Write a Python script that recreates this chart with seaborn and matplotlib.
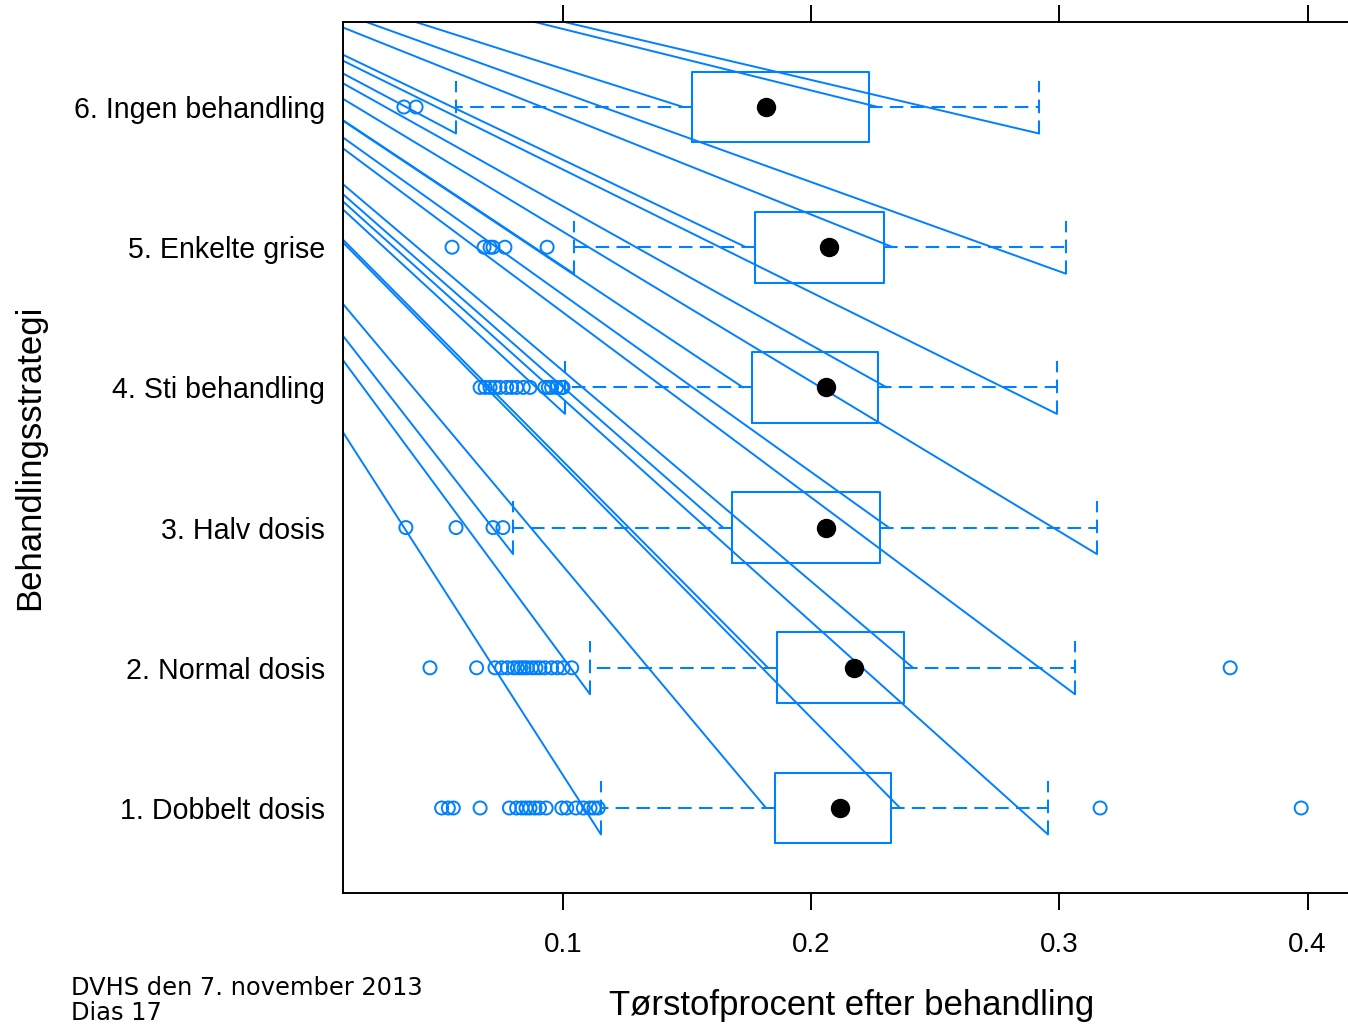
import numpy as np
import pandas as pd
import matplotlib
matplotlib.use("Agg")
import matplotlib.pyplot as plt
import seaborn as sns

# --- data --------------------------------------------------------------
strategies = ["1. Dobbelt dosis", "2. Normal dosis", "3. Halv dosis",
              "4. Sti behandling", "5. Enkelte grise", "6. Ingen behandling"]
q1 = [0.1854, 0.1862, 0.1681, 0.1761, 0.1773, 0.1520]
medians = [0.2116, 0.2172, 0.2060, 0.2060, 0.2072, 0.1818]
q3 = [0.2322, 0.2374, 0.2277, 0.2268, 0.2293, 0.2233]
whisker_lo = [0.1153, 0.1109, 0.0799, 0.1008, 0.1044, 0.0569]
whisker_hi = [0.2954, 0.3063, 0.3151, 0.2990, 0.3026, 0.2918]

outliers_1 = [0.0511, 0.0538, 0.0558, 0.0666, 0.0784, 0.0813, 0.0834, 0.0851,
              0.0867, 0.0887, 0.0905, 0.0932, 0.0995, 0.1015, 0.1052, 0.1082,
              0.1109, 0.1125, 0.1142, 0.3164, 0.3974]
outliers_2 = [0.0464, 0.0652, 0.0726, 0.0753, 0.0776, 0.0800, 0.0816, 0.0830,
              0.0843, 0.0856, 0.0874, 0.0891, 0.0907, 0.0927, 0.0954, 0.0977,
              0.1001, 0.1035, 0.3688]
outliers_3 = [0.0367, 0.0569, 0.0718, 0.0758]
outliers_4 = [0.0666, 0.0686, 0.0706, 0.0726, 0.0746, 0.0773, 0.0793, 0.0813,
              0.0840, 0.0867, 0.0927, 0.0941, 0.0954, 0.0974, 0.0995, 0.1000]
outliers_5 = [0.0553, 0.0682, 0.0706, 0.0718, 0.0766, 0.0936]
outliers_6 = [0.0359, 0.0408]
outliers = [outliers_1, outliers_2, outliers_3, outliers_4, outliers_5, outliers_6]

x_ticks = [0.1, 0.2, 0.3, 0.4]

BLUE = "#0080ff"
BOX_HALF = 0.253
CAP_HALF = 0.189
WHISKER_GAP = 0.0036
# the PDF export drew stray strokes from one off-page point to each whisker end
STRAY_ORIGIN = (-0.1293, 7.562)

sns.set_style("white")
plt.rcParams["font.family"] = ["Liberation Sans", "DejaVu Sans"]
plt.rcParams["text.color"] = "black"
plt.rcParams["axes.labelcolor"] = "black"
plt.rcParams["xtick.color"] = "black"
plt.rcParams["ytick.color"] = "black"

fig = plt.figure(figsize=(13.48, 10.24), dpi=100)
ax = fig.add_axes([343 / 1348, 1 - 893 / 1024, (1360 - 343) / 1348, (893 - 22) / 1024])

positions = np.arange(1, len(strategies) + 1)

# stray strokes
for pos, lo, a, b, hi in zip(positions, whisker_lo, q1, q3, whisker_hi):
    ends = [(lo, pos - CAP_HALF), (a - WHISKER_GAP, pos),
            (b + WHISKER_GAP, pos), (hi, pos - CAP_HALF)]
    for ex, ey in ends:
        ax.plot([STRAY_ORIGIN[0], ex], [STRAY_ORIGIN[1], ey],
                color=BLUE, lw=1.4, zorder=1)

stats = []
for i in range(len(strategies)):
    stats.append(dict(med=medians[i], q1=q1[i], q3=q3[i],
                      whislo=whisker_lo[i], whishi=whisker_hi[i], fliers=[]))

dash = (0, (6.5, 3.5))
ax.bxp(stats, positions=positions, widths=2 * BOX_HALF,
       capwidths=2 * CAP_HALF, orientation="horizontal",
       showfliers=False, manage_ticks=False,
       boxprops=dict(color=BLUE, lw=1.5),
       whiskerprops=dict(color=BLUE, lw=1.5, linestyle=dash),
       capprops=dict(color=BLUE, lw=1.5, linestyle=dash),
       medianprops=dict(lw=0))

flier_df = pd.DataFrame({
    "value": [v for vals in outliers for v in vals],
    "pos": [p for p, vals in zip(positions, outliers) for _ in vals],
})
sns.scatterplot(data=flier_df, x="value", y="pos", ax=ax, marker="o", s=88,
                color="none", edgecolor=BLUE, linewidth=1.4, zorder=4)
sns.scatterplot(x=medians, y=positions, ax=ax, marker="o", s=195,
                color="black", linewidth=0, zorder=5)

ax.set_xlim(0.01136, 0.42110)
ax.set_ylim(0.3937, 6.6063)
ax.set_xticks(x_ticks)
ax.set_xticklabels([f"{t:.1f}" for t in x_ticks])
ax.set_yticks(positions)
ax.set_yticklabels(strategies)
ax.tick_params(axis="x", top=True, bottom=True, labeltop=False, direction="out",
               length=12, width=1.4, labelsize=20, pad=16, color="black")
ax.tick_params(axis="y", left=False, length=0, labelsize=20.6, pad=13)
for sp in ax.spines.values():
    sp.set_color("black")
    sp.set_linewidth(1.4)

ax.set_xlabel("Tørstofprocent efter behandling", fontsize=25)
ax.set_ylabel("Behandlingsstrategi", fontsize=25)
ax.xaxis.set_label_coords(0.5, -0.110)
ax.yaxis.set_label_coords(-0.292, 0.5)

fig.text(71 / 1348, 1 - 995 / 1024, "DVHS den 7. november 2013",
         family="DejaVu Sans", fontsize=17.4, va="baseline")
fig.text(71 / 1348, 1 - 1020 / 1024, "Dias 17",
         family="DejaVu Sans", fontsize=17.4, va="baseline")

fig.savefig("out.png", dpi=100)
